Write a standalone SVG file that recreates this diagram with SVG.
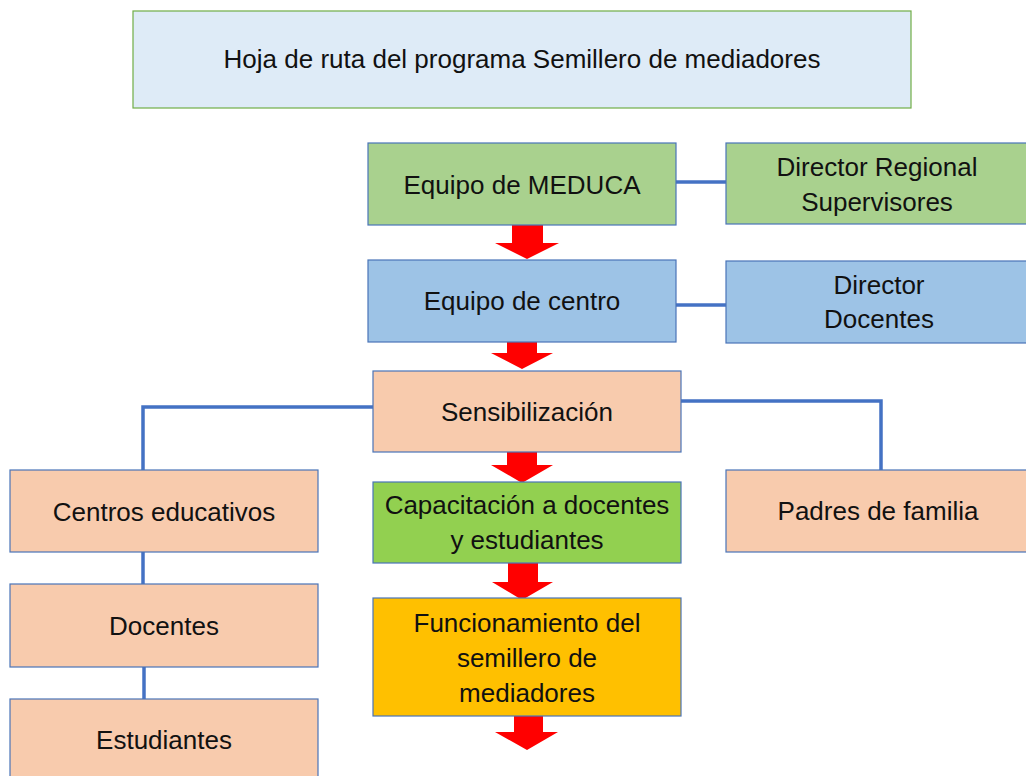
<svg xmlns="http://www.w3.org/2000/svg" width="1026" height="776" viewBox="0 0 1026 776">
<style>
.box{stroke:#4A74B8;stroke-width:1.2}
.t{font-family:"Liberation Sans",Arial,sans-serif;font-size:26px;fill:#111;text-anchor:middle}
.c{stroke:#4472C4;stroke-width:3.5;fill:none}
.ar{fill:#FF0000}
.green{fill:#A9D18E}.blue{fill:#9DC3E6}.peach{fill:#F8CBAD}.lime{fill:#92D050}.gold{fill:#FFC000}
</style>
<rect width="1026" height="776" fill="#fff"/>
<g id="connectors">
<path class="c" d="M676 182 H726"/>
<path class="c" d="M676 305 H726"/>
<path class="c" d="M373 407 H143 V470"/>
<path class="c" d="M681 401 H881 V470"/>
<path class="c" d="M143 552 V584"/>
<path class="c" d="M144 667 V699"/>
<polygon class="ar" points="512,224 543,224 543,243 559,243 527,259 495,243 512,243"/>
<polygon class="ar" points="507,342 537,342 537,353 553,353 522,369 491,353 507,353"/>
<polygon class="ar" points="507,452 537,452 537,465 553,465 522,483 491,465 507,465"/>
<polygon class="ar" points="508,563 538,563 538,582 553,582 522,600 492,582 508,582"/>
<polygon class="ar" points="514,716 543,716 543,732 558,732 527,750 495,732 514,732"/>
</g>
<g id="title"><rect x="133" y="11" width="778" height="97" fill="#DEEBF7" stroke="#70AD47" stroke-width="1.2"/><text class="t" x="522" y="68">Hoja de ruta del programa Semillero de mediadores</text></g>
<g id="meduca"><rect class="box green" x="368" y="143" width="308" height="82"/><text class="t" x="522" y="194">Equipo de MEDUCA</text></g>
<g id="regional"><rect class="box green" x="726" y="143" width="305" height="81"/><text class="t" x="877" y="176">Director Regional</text><text class="t" x="877" y="211">Supervisores</text></g>
<g id="centro"><rect class="box blue" x="368" y="260" width="308" height="82"/><text class="t" x="522" y="310">Equipo de centro</text></g>
<g id="director"><rect class="box blue" x="726" y="261" width="305" height="82"/><text class="t" x="879" y="294">Director</text><text class="t" x="879" y="328">Docentes</text></g>
<g id="sensibilizacion"><rect class="box peach" x="373" y="371" width="308" height="81"/><text class="t" x="527" y="421">Sensibilización</text></g>
<g id="capacitacion"><rect class="box lime" x="373" y="482" width="308" height="81"/><text class="t" x="527" y="514">Capacitación a docentes</text><text class="t" x="527" y="549">y estudiantes</text></g>
<g id="funcionamiento"><rect class="box gold" x="373" y="598" width="308" height="118"/><text class="t" x="527" y="632">Funcionamiento del</text><text class="t" x="527" y="667">semillero de</text><text class="t" x="527" y="702">mediadores</text></g>
<g id="padres"><rect class="box peach" x="726" y="470" width="305" height="82"/><text class="t" x="878" y="520">Padres de familia</text></g>
<g id="centros"><rect class="box peach" x="10" y="470" width="308" height="82"/><text class="t" x="164" y="521">Centros educativos</text></g>
<g id="docentes"><rect class="box peach" x="10" y="584" width="308" height="83"/><text class="t" x="164" y="635">Docentes</text></g>
<g id="estudiantes"><rect class="box peach" x="10" y="699" width="308" height="90"/><text class="t" x="164" y="749">Estudiantes</text></g>
</svg>
